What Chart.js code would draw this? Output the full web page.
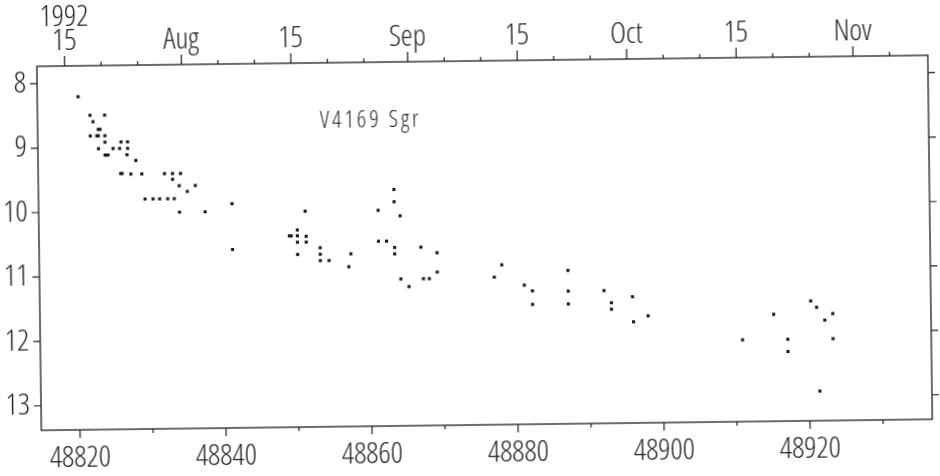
<!DOCTYPE html>
<html>
<head>
<meta charset="utf-8">
<script src="https://cdn.jsdelivr.net/npm/chart.js@4/dist/chart.umd.min.js"></script>
<style>
  html, body { margin: 0; padding: 0; background: #fff; overflow: hidden; }
  /* the scanned original sits a little skewed on the page */
  #lc { display: block; transform: rotate(-0.71deg); }
</style>
</head>
<body>
<canvas id="lc" width="940" height="476"></canvas>
<script>
// V4169 Sgr light curve, JD - 2400000 vs visual magnitude
const jd = [
  48820.3, 48821.9, 48823.9, 48822.3, 48823.0, 48823.25, 48821.9, 48822.8, 48823.0, 48823.9,
  48823.9, 48826.1, 48827.0, 48823.0, 48825.0, 48825.9, 48827.0, 48823.9, 48824.1, 48824.3,
  48826.9, 48828.1, 48826.0, 48826.2, 48827.4, 48828.9, 48832.0, 48833.1, 48834.2, 48833.1,
  48834.0, 48836.2, 48835.1, 48829.3, 48830.4, 48831.3, 48832.4, 48833.3, 48841.2, 48834.0,
  48837.5, 48841.2, 48851.2, 48850.1, 48849.0, 48849.25, 48850.1, 48851.3, 48850.1, 48851.3,
  48850.1, 48853.2, 48853.2, 48853.2, 48854.4, 48857.4, 48857.1, 48863.4, 48863.4, 48861.2,
  48864.2, 48861.2, 48862.3, 48863.4, 48863.4, 48867.0, 48869.2, 48869.2, 48864.2, 48865.3,
  48867.3, 48868.1, 48878.05, 48877.0, 48881.1, 48882.2, 48882.2, 48887.1, 48887.1, 48887.1,
  48892.0, 48893.0, 48893.0, 48895.9, 48896.0, 48898.0, 48910.9, 48915.2, 48917.1, 48917.1,
  48920.3, 48921.1, 48922.2, 48923.3, 48923.3, 48921.4
];
const mag = [
  8.21, 8.50, 8.50, 8.60, 8.72, 8.72, 8.82, 8.82, 8.82, 8.82,
  8.92, 8.92, 8.92, 9.02, 9.02, 9.02, 9.02, 9.12, 9.12, 9.12,
  9.12, 9.21, 9.41, 9.41, 9.42, 9.42, 9.42, 9.42, 9.42, 9.51,
  9.61, 9.61, 9.70, 9.81, 9.81, 9.81, 9.81, 9.81, 9.90, 10.02,
  10.02, 10.61, 10.03, 10.32, 10.41, 10.41, 10.41, 10.42, 10.51, 10.51,
  10.70, 10.60, 10.70, 10.80, 10.80, 10.70, 10.90, 9.71, 9.90, 10.03,
  10.12, 10.51, 10.51, 10.61, 10.71, 10.61, 10.70, 11.00, 11.10, 11.22,
  11.10, 11.10, 10.90, 11.09, 11.22, 11.31, 11.52, 11.00, 11.32, 11.52,
  11.32, 11.51, 11.61, 11.42, 11.81, 11.72, 12.11, 11.72, 12.11, 12.30,
  11.52, 11.62, 11.82, 11.72, 12.11, 12.92
];

const bottomTicks = [48820, 48830, 48840, 48850, 48860, 48870, 48880, 48890, 48900, 48910, 48920, 48930];
const magTicks = [8, 9, 10, 11, 12, 13];
// calendar axis on top: JD of 0h UT of each tick day (months ticked at "day 0")
const topTickJD = [
  48818.5, 48823.5, 48828.5, 48834.5, 48839.5, 48844.5, 48849.5, 48854.5, 48859.5,
  48865.5, 48870.5, 48875.5, 48880.5, 48885.5, 48890.5, 48895.5, 48900.5, 48905.5,
  48910.5, 48915.5, 48920.5, 48926.5, 48931.5
];
const topTickLabels = [
  '15', '', '', 'Aug', '', '', '15', '', '', 'Sep', '', '', '15', '', '', 'Oct', '', '',
  '15', '', '', 'Nov', ''
];
const year = '1992';
const starName = 'V4169 Sgr';

const xMin = 48814.7, xMax = 48936.75;
const yMin = 7.73, yMax = 13.38;

const INK = '#1e1e1e';
// thin condensed face, close to the plotter lettering of the original
const FAMILY = "'Open Sans', 'DejaVu Sans Condensed', sans-serif";
const WEIGHT = 'condensed 300';

const framePlugin = {
  id: 'frame',
  afterDraw(chart) {
    const { ctx, chartArea: a, scales } = chart;
    ctx.save();
    ctx.strokeStyle = INK;
    ctx.lineWidth = 1.3;
    ctx.strokeRect(a.left, a.top, a.right - a.left, a.bottom - a.top);

    ctx.lineWidth = 1.2;
    ctx.beginPath();
    scales.x.ticks.forEach(t => {
      const px = scales.x.getPixelForValue(t.value);
      const len = t.value % 20 === 0 ? 8 : 4;
      ctx.moveTo(px, a.bottom);
      ctx.lineTo(px, a.bottom + len);
    });
    scales.x2.ticks.forEach((t, i) => {
      const px = scales.x2.getPixelForValue(t.value);
      const len = topTickLabels[i] ? 10 : 4;
      ctx.moveTo(px, a.top);
      ctx.lineTo(px, a.top - len);
    });
    scales.y.ticks.forEach(t => {
      const py = scales.y.getPixelForValue(t.value);
      ctx.moveTo(a.left, py);
      ctx.lineTo(a.left - 7, py);
      ctx.moveTo(a.right, py);
      ctx.lineTo(a.right + 7, py);
    });
    ctx.stroke();

    // star name inside the plot
    ctx.fillStyle = INK;
    ctx.font = WEIGHT + ' 23px ' + FAMILY;
    ctx.fontStretch = 'condensed';
    ctx.letterSpacing = '3px';
    ctx.textAlign = 'left';
    ctx.textBaseline = 'alphabetic';
    ctx.fillText(starName, scales.x.getPixelForValue(48853.4), scales.y.getPixelForValue(8.74));
    ctx.restore();
  }
};

const tickFont = { family: FAMILY, size: 30, weight: WEIGHT, lineHeight: 1.2 };

new Chart(document.getElementById('lc'), {
  type: 'scatter',
  data: {
    datasets: [{
      data: jd.map((x, i) => ({ x, y: mag[i] })),
      pointStyle: 'rect',
      pointRadius: 2.2,
      pointHoverRadius: 2.2,
      backgroundColor: '#1a1a1a',
      borderWidth: 0
    }]
  },
  options: {
    responsive: false,
    animation: false,
    layout: { padding: { right: 10 } },
    plugins: { legend: { display: false }, tooltip: { enabled: false } },
    scales: {
      x: {
        type: 'linear', position: 'bottom', min: xMin, max: xMax,
        afterBuildTicks: s => { s.ticks = bottomTicks.map(v => ({ value: v })); },
        afterFit: s => { s.height = 51; },
        grid: { display: false, drawTicks: false },
        border: { display: false },
        ticks: {
          autoSkip: false, maxRotation: 0, padding: 10, color: INK, font: tickFont,
          callback: v => (v % 20 === 0 ? String(v) : '')
        }
      },
      x2: {
        type: 'linear', position: 'top', min: xMin, max: xMax,
        afterBuildTicks: s => { s.ticks = topTickJD.map(v => ({ value: v })); },
        afterFit: s => { s.height = 61; },
        grid: { display: false, drawTicks: false },
        border: { display: false },
        ticks: {
          autoSkip: false, maxRotation: 0, padding: 13, color: INK,
          font: { family: FAMILY, size: 30, weight: WEIGHT, lineHeight: 0.8 },
          callback: (v, i) => (i === 0 ? [year, topTickLabels[0]] : topTickLabels[i])
        }
      },
      y: {
        type: 'linear', position: 'left', reverse: true, min: yMin, max: yMax,
        afterBuildTicks: s => { s.ticks = magTicks.map(v => ({ value: v })); },
        afterFit: s => { s.width = 39; },
        grid: { display: false, drawTicks: false },
        border: { display: false },
        ticks: { padding: 11, color: INK, font: tickFont, callback: v => String(v) }
      }
    }
  },
  plugins: [framePlugin]
});
</script>
</body>
</html>
